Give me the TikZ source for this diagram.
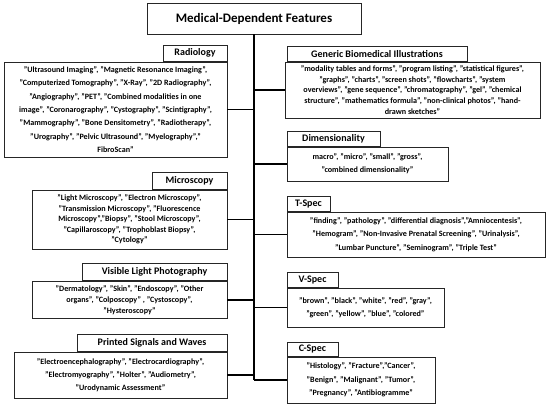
\documentclass[tikz,border=0pt]{standalone}
\usepackage{fontspec}
\setmainfont{Carlito}
\begin{document}
\begin{tikzpicture}[x=1pt,y=-1pt,
  cbox/.style={draw=black!85, line width=0.8pt, fill=white, inner sep=0pt, align=center,
     font=\bfseries\fontsize{8.1}{13.3}\selectfont},
  tight/.style={font=\bfseries\fontsize{8.1}{10.6}\selectfont},
  mid/.style={font=\bfseries\fontsize{8.1}{11.3}\selectfont},
  tabbox/.style={draw=black!85, line width=0.8pt, fill=white, inner sep=0pt, align=center,
     font=\bfseries\fontsize{10}{11}\selectfont},
  titlebox/.style={draw=black!85, line width=0.8pt, fill=white, inner sep=0pt, align=center,
     font=\bfseries\fontsize{13}{14}\selectfont},
  conn/.style={line width=1.6pt, black}]
\useasboundingbox (0,0) rectangle (550,406);

\node[titlebox, minimum width=214pt, minimum height=31pt] (title) at (254,18.5) {Medical-Dependent Features};

% left side
\node[cbox, minimum width=223pt, minimum height=95pt] (rad) at (115.5,109.5)
 {"Ultrasound Imaging", "Magnetic Resonance Imaging",\\
  "Computerized Tomography", "X-Ray", "2D Radiography",\\
  "Angiography", "PET", "Combined modalities in one\\
  image", "Coronarography", "Cystography", "Scintigraphy",\\
  "Mammography", "Bone Densitometry", "Radiotherapy",\\
  "Urography", "Pelvic Ultrasound", "Myelography","\\
  FibroScan"};
\node[tabbox, minimum width=64pt, minimum height=16pt, anchor=south east] (radt) at (rad.north east) {Radiology};

\node[cbox, tight, minimum width=195pt, minimum height=59pt] (mic) at (129.5,219.5)
 {"Light Microscopy", "Electron Microscopy",\\
  "Transmission Microscopy", "Fluorescence\\
  Microscopy","Biopsy", "Stool Microscopy",\\
  "Capillaroscopy", "Trophoblast Biopsy",\\
  "Cytology"};
\node[tabbox, minimum width=75pt, minimum height=17pt, anchor=south east] (mict) at (mic.north east) {Microscopy};

\node[cbox, mid, minimum width=195pt, minimum height=37pt] (vlp) at (129.5,300)
 {"Dermatology", "Skin", "Endoscopy", "Other\\
  organs", "Colposcopy" , "Cystoscopy",\\
  "Hysteroscopy"};
\node[tabbox, minimum width=145pt, minimum height=17pt, anchor=south east] (vlpt) at (vlp.north east) {Visible Light Photography};

\node[cbox, minimum width=213pt, minimum height=46pt] (psw) at (120.5,375)
 {"Electroencephalography", "Electrocardiography",\\
  "Electromyography", "Holter", "Audiometry",\\
  "Urodynamic Assessment"};
\node[tabbox, minimum width=150pt, minimum height=17pt, anchor=south east] (pswt) at (psw.north east) {Printed Signals and Waves};

% right side
\node[cbox, tight, minimum width=255pt, minimum height=56pt] (gen) at (412.5,90)
 {"modality tables and forms", "program listing", "statistical figures",\\
  "graphs", "charts", "screen shots", "flowcharts", "system\\
  overviews", "gene sequence", "chromatography", "gel", "chemical\\
  structure", "mathematics formula", "non-clinical photos", "hand-\\
  drawn sketches"};
\node[tabbox, minimum width=180pt, minimum height=15pt, anchor=south west] (gent) at ([xshift=2pt]gen.north west) {Generic Biomedical Illustrations};

\node[cbox, minimum width=161pt, minimum height=34pt] (dim) at (367.5,164)
 {macro", "micro", "small", "gross",\\
  "combined dimensionality"};
\node[tabbox, minimum width=93pt, minimum height=15pt, anchor=south west] (dimt) at (dim.north west) {Dimensionality};

\node[cbox, minimum width=258pt, minimum height=45pt] (tsp) at (416,234.5)
 {"finding", "pathology", "differential diagnosis","Amniocentesis",\\
  "Hemogram", "Non-Invasive Prenatal Screening", "Urinalysis",\\
  "Lumbar Puncture", "Seminogram", "Triple Test"};
\node[tabbox, minimum width=43pt, minimum height=15pt, anchor=south west] (tspt) at (tsp.north west) {T-Spec};

\node[cbox, minimum width=157pt, minimum height=39pt] (vsp) at (365.5,307.5)
 {"brown", "black", "white", "red", "gray",\\
  "green", "yellow", "blue", "colored"};
\node[tabbox, minimum width=51pt, minimum height=15pt, anchor=south west] (vspt) at (vsp.north west) {V-Spec};

\node[cbox, minimum width=148pt, minimum height=46pt] (csp) at (361,380)
 {"Histology", "Fracture","Cancer",\\
  "Benign", "Malignant", "Tumor",\\
  "Pregnancy", "Antibiogramme"};
\node[tabbox, minimum width=51pt, minimum height=14pt, anchor=south west] (cspt) at (csp.north west) {C-Spec};

% connectors
\coordinate (trunkend) at (title.south |- csp.west);
\draw[conn] (title.south) -- (trunkend);
\foreach \n in {rad,mic,vlp,psw} \draw[conn] (\n.east) -- (\n.east -| title.south);
\foreach \n in {gen,dim,tsp,vsp,csp} \draw[conn] (\n.west) -- (\n.west -| title.south);
\end{tikzpicture}
\end{document}
